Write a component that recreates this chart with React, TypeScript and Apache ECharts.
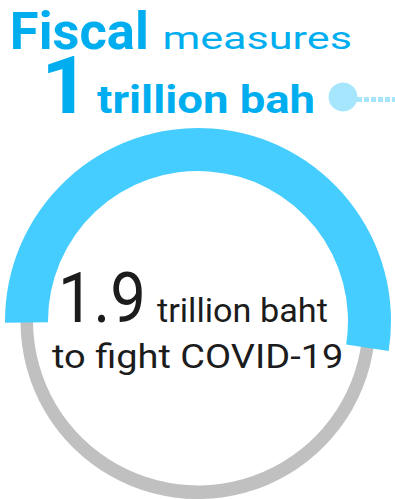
import React, { useEffect, useRef } from "react";
import * as echarts from "echarts";

// ---- data ----
const measureLabels = ["Fiscal measures", "Total package"];
const measureValues = [1, 1.9]; // trillion baht
const unitLabels = ["trillion bah", "trillion baht"];
const captionLines = ["to fight COVID-19"];

const FAMILY = "Roboto, 'Open Sans', sans-serif";
const BLUE_TITLE = "#00aeef";
const BLUE_ARC = "#45cdff";
const GREY = "#c0c0c0";
const DARK = "#1c1c1c";

function fitText(
  text: string,
  weight: number,
  left: number,
  right: number,
  top: number,
  baseline: number,
  fill: string
) {
  const ctx = document.createElement("canvas").getContext("2d")!;
  ctx.font = `${weight} 100px ${FAMILY}`;
  ctx.textBaseline = "alphabetic";
  const m = ctx.measureText(text);
  const asc = m.actualBoundingBoxAscent || 72;
  const size = (100 * (baseline - top)) / asc;
  const k = size / 100;
  const inkL = (m.actualBoundingBoxLeft || 0) * k;
  const inkR = (m.actualBoundingBoxRight || m.width) * k;
  const sx = (right - left) / (inkL + inkR);
  const fa = m.fontBoundingBoxAscent ?? 92.8;
  const fd = m.fontBoundingBoxDescent ?? 24.4;
  const central = ((fa - fd) / 2) * k;
  return {
    type: "text",
    x: left + sx * inkL,
    y: baseline - central,
    scaleX: sx,
    z: 10,
    style: {
      text,
      font: `${weight} ${size.toFixed(2)}px ${FAMILY}`,
      fill,
      align: "left",
      verticalAlign: "middle",
    },
  };
}

export default function App() {
  const ref = useRef<HTMLDivElement>(null);
  useEffect(() => {
    if (!ref.current) return;
    const chart = echarts.init(ref.current, undefined, { renderer: "svg" });
    const [part, total] = measureValues;
    const title1 = measureLabels[0].split(" ");
    const center = [198, 321];
    const startAngle = 180.5;

    const option: any = {
      animation: false,
      backgroundColor: "#ffffff",
      series: [
        {
          type: "gauge",
          center,
          radius: 177.5,
          startAngle,
          endAngle: startAngle - 360,
          min: 0,
          max: total,
          axisLine: { lineStyle: { width: 12.5, color: [[1, GREY]] } },
          progress: { show: false },
          pointer: { show: false },
          axisTick: { show: false },
          splitLine: { show: false },
          axisLabel: { show: false },
          detail: { show: false },
          title: { show: false },
          data: [{ value: total, name: measureLabels[1] }],
        },
        {
          type: "gauge",
          center,
          radius: 193,
          startAngle,
          endAngle: startAngle - 360,
          min: 0,
          max: total,
          axisLine: { show: false, lineStyle: { width: 43, color: [[1, "rgba(0,0,0,0)"]] } },
          progress: { show: true, width: 43, roundCap: false, itemStyle: { color: BLUE_ARC } },
          pointer: { show: false },
          axisTick: { show: false },
          splitLine: { show: false },
          axisLabel: { show: false },
          detail: { show: false },
          title: { show: false },
          data: [{ value: part, name: measureLabels[0] }],
        },
      ],
      graphic: [
        fitText(title1[0], 700, 13, 146, 10, 49.5, BLUE_TITLE),
        fitText(title1[1], 400, 165, 350, 32, 49.5, BLUE_TITLE),
        fitText(String(part), 700, 48, 75, 55, 113, BLUE_TITLE),
        fitText(unitLabels[0], 700, 97, 313, 83, 113, BLUE_TITLE),
        fitText(String(total), 400, 63, 142, 271, 322, DARK),
        fitText(unitLabels[1], 400, 157, 327, 297, 322, DARK),
        fitText(captionLines[0], 400, 52, 341, 342, 368, DARK),
        {
          type: "circle",
          shape: { cx: 343, cy: 97, r: 14.5 },
          style: { fill: "#a6e6fc" },
          z: 10,
        },
        {
          type: "line",
          shape: { x1: 357, y1: 99.5, x2: 395, y2: 99.5 },
          style: { stroke: "#a6e6fc", lineWidth: 5, lineDash: [5, 2] },
          z: 10,
        },
      ],
    };
    chart.setOption(option);
    return () => chart.dispose();
  }, []);
  return (
    <div
      ref={ref}
      style={{ position: "fixed", left: 0, top: 0, width: 395, height: 499, background: "#fff" }}
    />
  );
}
